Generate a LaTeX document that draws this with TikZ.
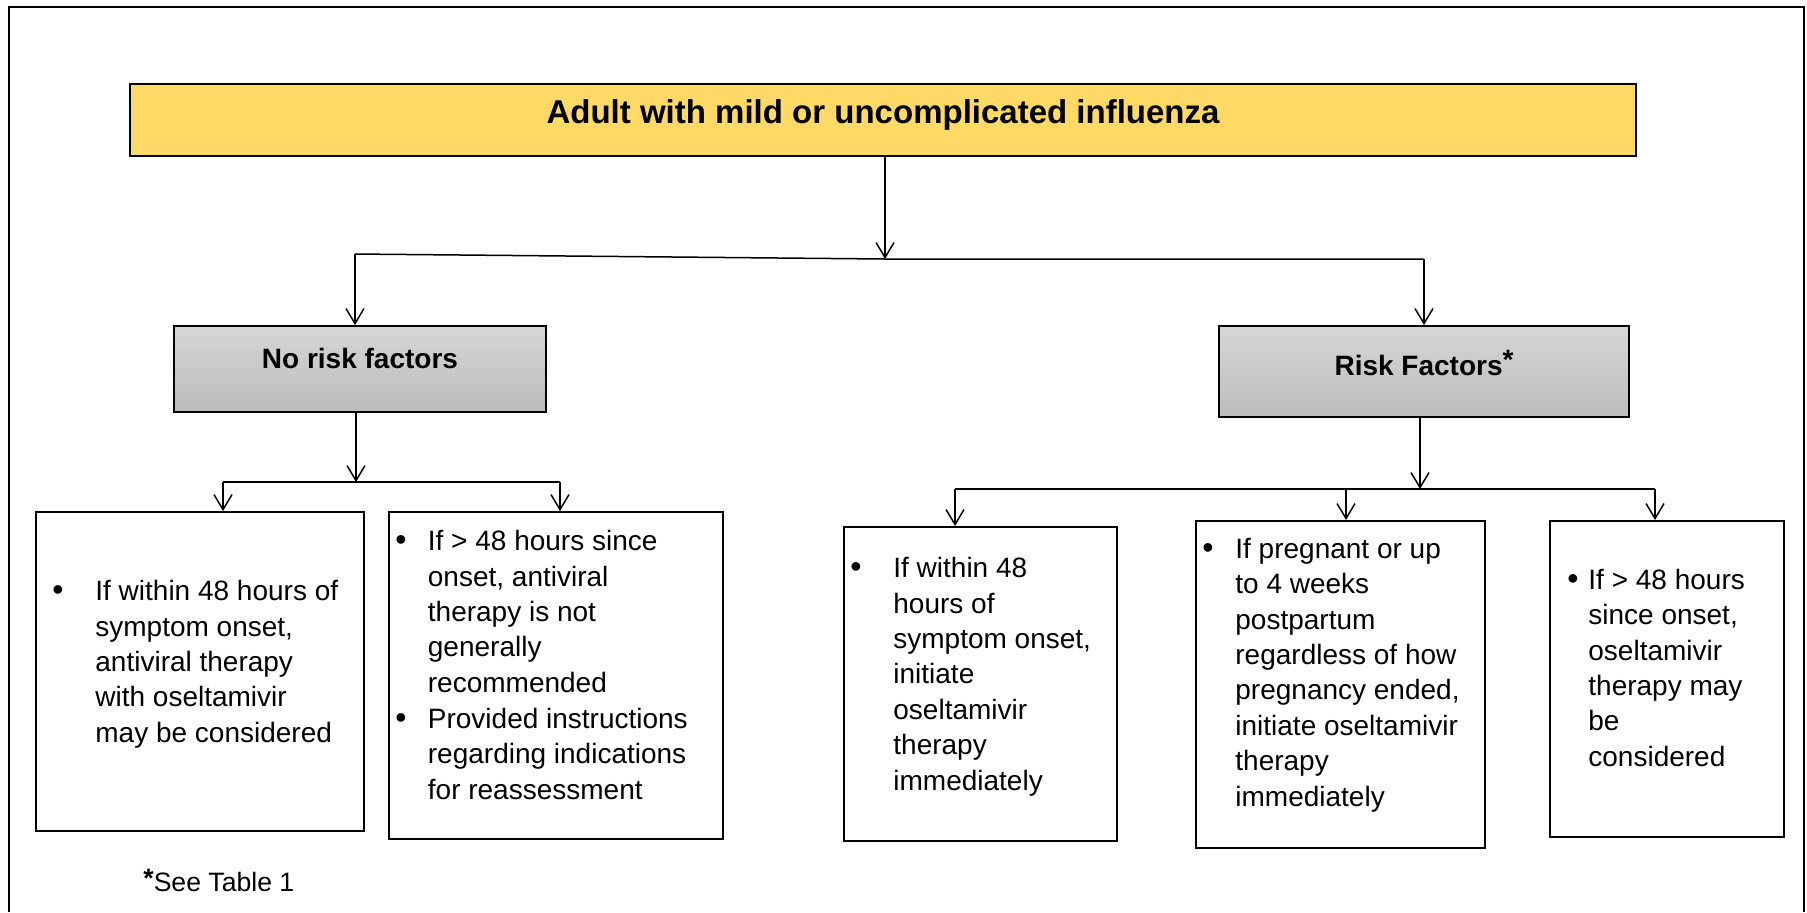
\documentclass[tikz,border=0pt]{standalone}
\usepackage{fontspec}
\setmainfont{Liberation Sans}
\usetikzlibrary{arrows.meta}

\definecolor{headyellow}{RGB}{255,217,102}
\definecolor{greytop}{RGB}{214,214,214}
\definecolor{greybot}{RGB}{188,188,188}

\tikzset{
  box/.style={draw, line width=1pt, inner sep=0pt},
  riskbox/.style={box, top color=greytop, bottom color=greybot,
                  font=\fontsize{14}{17}\selectfont\bfseries},
  % placed by the baseline of the last line
  bullettext/.style={font=\fontsize{14}{17.7}\selectfont, align=left,
                     inner sep=0pt, anchor=base west},
  dot/.style={font=\fontsize{16}{17.7}\selectfont, inner sep=0pt, anchor=base},
  conn/.style={line width=0.75pt},
  arr/.style={conn, -{Straight Barb[length=7.5pt,width=9pt]}}
}

\begin{document}
\begin{tikzpicture}[x=0.5pt,y=-0.5pt]

            \useasboundingbox (0,0) rectangle (1807,912);
            %frame
            \draw[line width=1pt] (8.5,912) -- (8.5,7) -- (1803.5,7) -- (1803.5,912);

            %top and the two groups
            \node[box, fill=headyellow, minimum width=753pt, minimum height=36pt,
                  text height=19.5pt, text depth=16.5pt,
                  font=\fontsize{16.5}{20}\selectfont\bfseries]
                (adult) at (883,120) {Adult with mild or uncomplicated influenza};
            \node[riskbox, minimum width=186pt, minimum height=43pt,
                  text height=21pt, text depth=22pt]
                (no risk) at (360,369) {No risk factors};
            \node[riskbox, minimum width=205pt, minimum height=45.5pt,
                  text height=24.5pt, text depth=21pt]
                (risk) at (1424,371.5) {Risk Factors\raisebox{3pt}{*}};

            %outcome boxes
            \node[box, minimum width=164pt, minimum height=159.5pt] (nra) at (200,671.5) {};
            \node[box, minimum width=167pt, minimum height=163.5pt] (nrb) at (556,675.5) {};
            \node[box, minimum width=136.5pt, minimum height=157pt] (rfa) at (980.5,684) {};
            \node[box, minimum width=144.5pt, minimum height=163.5pt] (rfb) at (1340.5,684.5) {};
            \node[box, minimum width=117pt, minimum height=158pt] (rfc) at (1667,679) {};

            %bullets
            \node[dot] (nra dot) at (58,600.7) {\textbullet};
            \node[bullettext] (nra txt) at (95,742.3)
                {If within 48 hours of\\symptom onset,\\antiviral therapy\\with oseltamivir\\may be considered};
            \node[dot] (nrb dot1) at (401,550.7) {\textbullet};
            \node[bullettext] (nrb txt1) at (427.5,692.3)
                {If > 48 hours since\\onset, antiviral\\therapy is not\\generally\\recommended};
            \node[dot] (nrb dot2) at (401,728.2) {\textbullet};
            \node[bullettext] (nrb txt2) at (427.5,799)
                {Provided instructions\\regarding indications\\for reassessment};
            \node[dot] (rfa dot) at (856,577.7) {\textbullet};
            \node[bullettext] (rfa txt) at (893,790.1)
                {If within 48\\hours of\\symptom onset,\\initiate\\oseltamivir\\therapy\\immediately};
            \node[dot] (rfb dot) at (1208,558.3) {\textbullet};
            \node[bullettext] (rfb txt) at (1235,806.1)
                {If pregnant or up\\to 4 weeks\\postpartum\\regardless of how\\pregnancy ended,\\initiate oseltamivir\\therapy\\immediately};
            \node[dot] (rfc dot) at (1573,589.3) {\textbullet};
            \node[bullettext] (rfc txt) at (1588,766.3)
                {If > 48 hours\\since onset,\\oseltamivir\\therapy may\\be\\considered};

            \node[font=\fontsize{13.3}{15}\selectfont, inner sep=0pt, anchor=base west]
                (note) at (143,891.7) {\raisebox{2pt}{\textbf{*}}See Table 1};

            %connectors
            \coordinate (split top) at (885,259);
            \coordinate (split left) at (355,254);
            \coordinate (split right) at (1424,259);
            \draw[arr] (adult.south -| split top) -- (split top);
            \draw[conn] (split left) -- (split top) -- (split right);
            \draw[arr] (split left) -- (split left |- no risk.north);
            \draw[arr] (split right) -- (split right |- risk.north);

            \coordinate (split nr) at (356,482);
            \coordinate (nr left) at (223,482);
            \coordinate (nr right) at (560,482);
            \draw[arr] (no risk.south -| split nr) -- (split nr);
            \draw[conn] (nr left) -- (nr right);
            \draw[arr] (nr left) -- (nr left |- nra.north);
            \draw[arr] (nr right) -- (nr right |- nrb.north);

            \coordinate (split rf) at (1420,489);
            \coordinate (rf left) at (955,489);
            \coordinate (rf mid) at (1346,489);
            \coordinate (rf right) at (1655,489);
            \draw[arr] (risk.south -| split rf) -- (split rf);
            \draw[conn] (rf left) -- (rf right);
                 \foreach \c/\b in {rf left/rfa, rf mid/rfb, rf right/rfc}
                     \draw[arr] (\c) -- (\c |- \b.north);
\end{tikzpicture}
\end{document}
